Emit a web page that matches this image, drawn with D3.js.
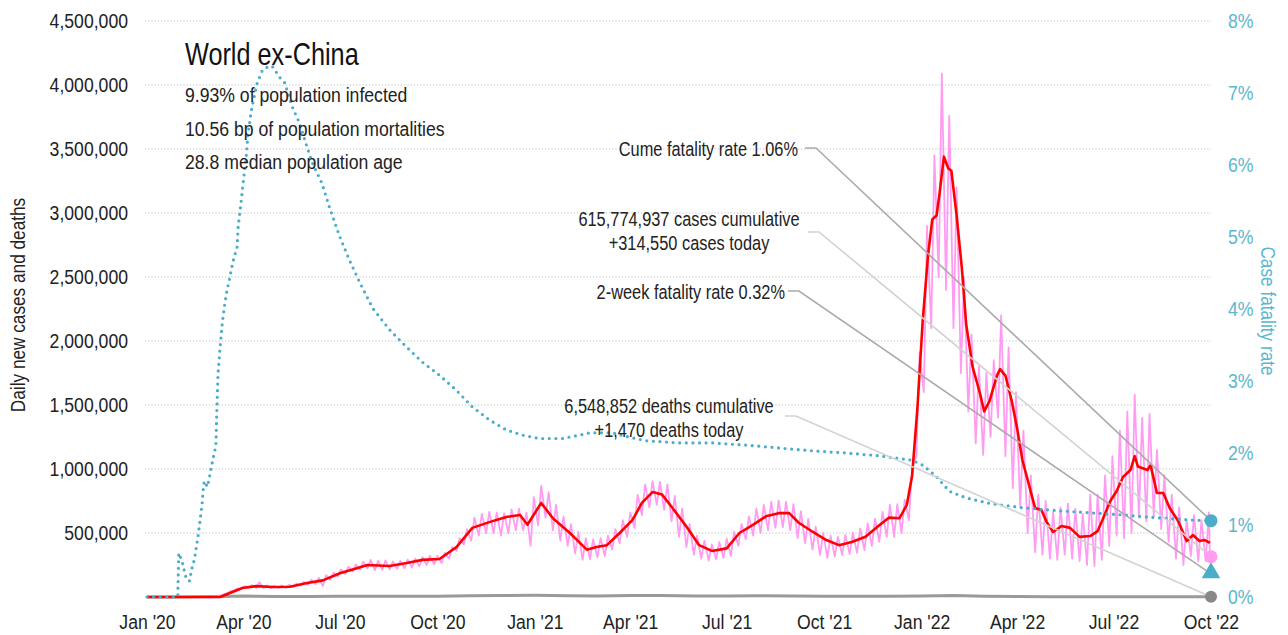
<!DOCTYPE html>
<html>
<head>
<meta charset="utf-8">
<script src="https://cdn.jsdelivr.net/npm/d3@7"></script>
<style>
  html, body { margin: 0; padding: 0; background: #fff; }
  svg { display: block; font-family: "Liberation Sans", Arial, sans-serif; }
</style>
</head>
<body>
<svg id="chart" width="1288" height="635"></svg>
<script>
// ---------------- DATA ----------------
const leftTicks = [500000, 1000000, 1500000, 2000000, 2500000, 3000000, 3500000, 4000000, 4500000];
const rightTicks = [0, 0.01, 0.02, 0.03, 0.04, 0.05, 0.06, 0.07, 0.08];

// 7-day average of daily new cases
const avgDates = ["2020-01-01","2020-03-10","2020-03-31","2020-04-13","2020-04-29","2020-05-15","2020-05-31","2020-06-15","2020-07-01","2020-07-17","2020-07-27","2020-08-17","2020-09-02","2020-09-17","2020-10-03","2020-10-19","2020-11-03","2020-11-19","2020-12-05","2020-12-18","2020-12-25",
"2021-01-07","2021-01-18","2021-02-03","2021-02-19","2021-02-28","2021-03-10","2021-03-22","2021-04-03","2021-04-12","2021-04-22","2021-05-01","2021-05-10","2021-05-24","2021-06-05","2021-06-17","2021-07-01","2021-07-13","2021-07-25","2021-08-07","2021-08-19","2021-08-29","2021-09-07","2021-09-20","2021-10-03","2021-10-15","2021-10-27","2021-11-09","2021-11-22","2021-12-01","2021-12-11","2021-12-18","2021-12-23","2021-12-28",
"2022-01-02","2022-01-07","2022-01-11","2022-01-15","2022-01-18","2022-01-22","2022-01-26","2022-01-29","2022-02-03","2022-02-08","2022-02-12","2022-02-18","2022-02-25","2022-03-01","2022-03-06","2022-03-13","2022-03-16","2022-03-21","2022-03-27","2022-04-01","2022-04-06","2022-04-13","2022-04-18","2022-04-24","2022-04-29","2022-05-05","2022-05-13","2022-05-21","2022-05-30","2022-06-09","2022-06-16","2022-06-21","2022-06-28","2022-07-04","2022-07-10","2022-07-17","2022-07-21","2022-07-24","2022-08-02","2022-08-05","2022-08-11","2022-08-17","2022-08-23","2022-08-31","2022-09-08","2022-09-14","2022-09-20","2022-09-25","2022-09-30"];
const avgCases = [0,0,70000,85000,78000,80000,110000,130000,185000,225000,250000,242000,265000,290000,297000,390000,540000,585000,625000,640000,565000,
735000,615000,500000,370000,390000,405000,500000,600000,735000,820000,800000,705000,550000,405000,360000,380000,500000,560000,630000,655000,655000,580000,510000,445000,405000,430000,470000,560000,620000,615000,720000,950000,1480000,
2160000,2670000,2950000,2980000,3160000,3440000,3350000,3330000,2980000,2560000,2130000,1800000,1590000,1450000,1530000,1730000,1780000,1730000,1530000,1320000,1070000,852000,695000,680000,585000,508000,555000,540000,470000,476000,515000,610000,750000,828000,937000,992000,1100000,1020000,992000,1030000,813000,813000,695000,594000,437000,484000,437000,445000,422000];

// Daily new cases: weekly trough (Monday) and weekly peak (Thursday), from week of 2020-01-06
const weekStart = "2020-01-06";
const casesTrough = [
  0,0,0,0,                       // Jan 2020
  0,0,0,500,                     // Feb
  1500,8000,28000,52000,68000,   // Mar
  72000,70000,70000,68000,       // Apr
  70000,72000,80000,88000,       // May
  95000,100000,85000,135000,160000, // Jun
  180000,200000,215000,225000,   // Jul
  210000,212000,215000,220000,225000, // Aug
  230000,240000,250000,255000,   // Sep
  265000,300000,360000,410000,   // Oct
  440000,480000,500000,500000,480000, // Nov
  500000,520000,520000,400000,   // Dec
  560000,620000,520000,440000,   // Jan 2021
  400000,340000,290000,295000,   // Feb
  310000,320000,370000,420000,470000, // Mar
  540000,640000,700000,720000,   // Apr
  680000,590000,470000,390000,330000, // May
  300000,285000,295000,305000,   // Jun
  320000,400000,450000,480000,   // Jul
  500000,520000,540000,545000,520000, // Aug
  460000,420000,370000,330000,   // Sep
  305000,315000,330000,335000,   // Oct
  345000,365000,400000,430000,470000, // Nov
  470000,500000,600000,1100000,  // Dec
  1600000,2100000,2500000,2400000,2100000, // Jan 2022
  1750000,1450000,1200000,1110000, // Feb
  1250000,1400000,1100000,850000, // Mar
  700000,500000,350000,330000,   // Apr
  300000,290000,330000,300000,280000, // May
  250000,240000,290000,400000,   // Jun
  480000,460000,500000,620000,   // Jul
  590000,630000,530000,430000,300000, // Aug
  250000,320000,280000,280000    // Sep
];
const casesPeak = [
  0,0,0,0,
  0,0,500,1500,
  4000,16000,42000,66000,85000,
  92000,115000,90000,88000,
  90000,95000,105000,118000,
  135000,150000,170000,190000,215000,
  235000,255000,275000,290000,
  282000,286000,278000,282000,292000,
  300000,312000,322000,322000,
  345000,390000,460000,530000,
  620000,650000,665000,660000,655000,
  685000,690000,660000,780000,
  870000,820000,720000,630000,
  570000,510000,460000,450000,
  460000,480000,530000,600000,660000,
  800000,880000,905000,900000,
  880000,790000,690000,570000,480000,
  440000,410000,430000,455000,
  510000,570000,630000,690000,
  720000,745000,755000,745000,725000,
  670000,610000,550000,500000,
  480000,470000,485000,505000,
  535000,575000,610000,665000,720000,
  725000,760000,1020000,1910000,
  2900000,3450000,4090000,3760000,3200000,
  2500000,2050000,1800000,1750000,
  1850000,2200000,1950000,1600000,
  1300000,950000,800000,750000,
  660000,700000,730000,690000,650000,
  800000,800000,950000,1100000,
  1300000,1450000,1580000,1400000,
  1430000,1150000,950000,800000,700000,
  600000,640000,600000,660000
];

// Daily new deaths (monthly readings)
const deathDates = ["2020-01-01","2020-02-01","2020-03-01","2020-04-01","2020-05-01","2020-06-01","2020-07-01","2020-08-01","2020-09-01","2020-10-01","2020-11-01","2020-12-01","2021-01-01","2021-02-01","2021-03-01","2021-04-01","2021-05-01","2021-06-01","2021-07-01","2021-08-01","2021-09-01","2021-10-01","2021-11-01","2021-12-01","2022-01-01","2022-02-01","2022-03-01","2022-04-01","2022-05-01","2022-06-01","2022-07-01","2022-08-01","2022-09-01","2022-09-30"];
const deathValues = [0,100,2000,7000,4500,4500,5500,6000,5500,6500,10000,11500,13500,10000,8500,11000,11000,8500,8000,9500,8500,6800,6500,6500,8500,11000,6500,4000,2500,1800,2500,2300,1500,1470];

// Cumulative case fatality rate (right axis)
const cfrDates = ["2020-01-01","2020-01-30","2020-01-31","2020-02-03","2020-02-04","2020-02-07","2020-02-10","2020-02-12","2020-02-15","2020-02-18","2020-02-20","2020-02-22","2020-02-23","2020-02-24","2020-02-27","2020-02-29","2020-03-03","2020-03-06","2020-03-07","2020-03-08","2020-03-10","2020-03-12","2020-03-14","2020-03-16","2020-03-19","2020-03-22","2020-03-26","2020-03-27","2020-03-30","2020-04-01","2020-04-04","2020-04-05","2020-04-08","2020-04-10","2020-04-14","2020-04-19","2020-04-26","2020-04-29","2020-05-05","2020-05-10","2020-05-17","2020-05-24","2020-05-31","2020-06-05","2020-06-14","2020-06-21","2020-07-01","2020-07-10","2020-07-20","2020-08-01","2020-08-17","2020-09-02","2020-09-17","2020-10-03","2020-10-19","2020-11-03","2020-11-19","2020-12-05","2020-12-20","2021-01-05","2021-01-27","2021-02-22","2021-03-15","2021-03-31","2021-04-16","2021-05-17","2021-06-17","2021-07-19","2021-08-19","2021-09-20","2021-10-22","2021-11-22","2021-12-23","2022-01-02","2022-01-15","2022-01-27","2022-02-12","2022-03-06","2022-04-06","2022-05-08","2022-06-08","2022-07-10","2022-08-11","2022-09-11","2022-09-30"];
const cfrValues = [0,0,0.0061,0.0050,0.0044,0.0026,0.0022,0.00375,0.0054,0.0083,0.0105,0.0130,0.0149,0.0161,0.0153,0.0167,0.0190,0.0210,0.0264,0.0310,0.0347,0.0380,0.0403,0.0422,0.0443,0.0465,0.0486,0.0514,0.0551,0.0579,0.0617,0.0639,0.0672,0.0687,0.0714,0.0732,0.0738,0.0736,0.0722,0.0714,0.0681,0.0658,0.0625,0.0603,0.0575,0.0542,0.0500,0.0468,0.0436,0.0401,0.0371,0.0347,0.0326,0.0308,0.0287,0.0264,0.0246,0.0232,0.0225,0.0220,0.0220,0.0228,0.0228,0.0222,0.0217,0.0214,0.0214,0.0211,0.0207,0.0203,0.0200,0.0196,0.0190,0.0183,0.0167,0.0147,0.01375,0.0130,0.0124,0.0120,0.0117,0.0114,0.0110,0.0107,0.0106];

// Latest values (end markers)
const endDate = "2022-10-01";
const endCumeFatality = 0.0106;
const endCasesToday = 314550;
const end2WeekFatality = 0.0032;
const endDeathsToday = 1470;

const titleText = "World ex-China";
const subtitleLines = ["9.93% of population infected", "10.56 bp of population mortalities", "28.8 median population age"];

// ---------------- CHART ----------------
const parse = d3.timeParse("%Y-%m-%d");
const svg = d3.select("#chart");
const M = {left: 147, right: 1211, top: 21, bottom: 597};
const SX = 0.84; // horizontal condensing of the text face

const x = d3.scaleTime().domain([parse("2020-01-01"), parse("2022-10-01")]).range([M.left, M.right]);
const yL = d3.scaleLinear().domain([0, 4500000]).range([M.bottom, M.top]);
const yR = d3.scaleLinear().domain([0, 0.08]).range([M.bottom, M.top]);

const teal = "#4aaec8";
const tealText = "#5ab7cf";
const pink = "#ff9cf2";
const red = "#ff0000";

function label(parent, px, py, str, size, anchor, fill, sx, rot) {
  return parent.append("text")
    .attr("transform", `translate(${px},${py})${rot ? ` rotate(${rot})` : ""} scale(${sx},1)`)
    .attr("text-anchor", anchor).attr("font-size", size).attr("fill", fill).text(str);
}

// gridlines
svg.append("g").selectAll("line").data(leftTicks).join("line")
  .attr("x1", M.left - 2).attr("x2", M.right)
  .attr("y1", d => yL(d)).attr("y2", d => yL(d))
  .attr("stroke", "#bdbdbd").attr("stroke-width", 1).attr("stroke-dasharray", "1.2 2");

// left axis
const axL = svg.append("g").attr("transform", `translate(${M.left - 19},0)`)
  .call(d3.axisLeft(yL).tickValues(leftTicks).tickFormat(d3.format(",")).tickSize(0).tickPadding(0));
axL.select(".domain").remove();
axL.selectAll("text").attr("font-size", 21).attr("fill", "#222").attr("font-family", null)
  .attr("transform", `scale(${SX},1)`);

// right axis
const axR = svg.append("g").attr("transform", `translate(${M.right + 17},0)`)
  .call(d3.axisRight(yR).tickValues(rightTicks).tickFormat(d3.format(".0%")).tickSize(0).tickPadding(0));
axR.select(".domain").remove();
axR.selectAll("text").attr("font-size", 21).attr("fill", tealText).attr("font-family", null)
  .attr("transform", `scale(${SX},1)`);

// bottom axis
const axB = svg.append("g").attr("transform", `translate(0,${M.bottom + 14})`)
  .call(d3.axisBottom(x).ticks(d3.timeMonth.every(3)).tickFormat(d3.timeFormat("%b '%y")).tickSize(0).tickPadding(0));
axB.select(".domain").remove();
axB.selectAll("text").attr("font-size", 21).attr("fill", "#222").attr("font-family", null)
  .attr("dy", "0.85em").attr("transform", `scale(${SX},1)`);

// axis titles (rotated; condensing applies along the reading direction)
label(svg, 25, 305, "Daily new cases and deaths", 20.5, "middle", "#222", SX, -90);
label(svg, 1261, 311, "Case fatality rate", 20.5, "middle", tealText, SX, 90);

// deaths line
const deaths = deathDates.map((d, i) => ({date: parse(d), v: deathValues[i]}));
svg.append("path").datum(deaths)
  .attr("d", d3.line().x(d => x(d.date)).y(d => yL(d.v)))
  .attr("fill", "none").attr("stroke", "#9a9a9a").attr("stroke-width", 3);

// daily cases (pink)
const ws = parse(weekStart);
const daily = [];
casesTrough.forEach((t, i) => {
  daily.push({date: d3.timeDay.offset(ws, 7 * i), v: t});
  daily.push({date: d3.timeDay.offset(ws, 7 * i + 3), v: casesPeak[i]});
});
daily.unshift({date: parse("2020-01-01"), v: 0});
daily.push({date: parse("2022-09-30"), v: endCasesToday});
svg.append("path").datum(daily)
  .attr("d", d3.line().x(d => x(d.date)).y(d => yL(d.v)))
  .attr("fill", "none").attr("stroke", pink).attr("stroke-width", 1.8).attr("stroke-linejoin", "round");

// 7-day average (red)
const avg = avgDates.map((d, i) => ({date: parse(d), v: avgCases[i]}));
svg.append("path").datum(avg)
  .attr("d", d3.line().x(d => x(d.date)).y(d => yL(d.v)))
  .attr("fill", "none").attr("stroke", red).attr("stroke-width", 2.6).attr("stroke-linejoin", "round");

// CFR (teal dotted)
const cfr = cfrDates.map((d, i) => ({date: parse(d), v: cfrValues[i]}));
svg.append("path").datum(cfr)
  .attr("d", d3.line().x(d => x(d.date)).y(d => yR(d.v)))
  .attr("fill", "none").attr("stroke", teal).attr("stroke-width", 3.2)
  .attr("stroke-linecap", "round").attr("stroke-dasharray", "0 6.6");

// title block
label(svg, 185, 65, titleText, 32, "start", "#111", 0.79);
subtitleLines.forEach((s, i) => {
  label(svg, 185, 102 + i * 33.5, s, 21, "start", "#222", SX);
});

// annotations + leader lines
const ex = x(parse(endDate));
const annotations = [
  {lines: ["Cume fatality rate 1.06%"], anchor: "end", tx: 798, ty: 156, lx: 805, ly: 148, ty2: yR(endCumeFatality), col: "#ababab"},
  {lines: ["615,774,937 cases cumulative", "+314,550 cases today"], anchor: "middle", tx: 689, ty: 226, lx: 808, ly: 232, ty2: yL(endCasesToday), col: "#d2d2d2"},
  {lines: ["2-week fatality rate 0.32%"], anchor: "end", tx: 785, ty: 299, lx: 788, ly: 291, ty2: yR(end2WeekFatality), col: "#ababab"},
  {lines: ["6,548,852 deaths cumulative", "+1,470 deaths today"], anchor: "middle", tx: 669, ty: 413, lx: 785, ly: 416, ty2: yL(endDeathsToday), col: "#d2d2d2"}
];
annotations.forEach(a => {
  svg.append("polyline")
    .attr("points", `${a.lx},${a.ly} ${a.lx + 11},${a.ly} ${ex},${a.ty2}`)
    .attr("fill", "none").attr("stroke", a.col).attr("stroke-width", 1.6);
  a.lines.forEach((l, i) => {
    label(svg, a.tx, a.ty + i * 24, l, 19.5, a.anchor, "#222", SX);
  });
});

// end markers
svg.append("circle").attr("cx", ex).attr("cy", yR(endCumeFatality)).attr("r", 6.5).attr("fill", teal);
svg.append("circle").attr("cx", ex).attr("cy", yL(endCasesToday)).attr("r", 6.5).attr("fill", pink);
svg.append("path").attr("transform", `translate(${ex},${yR(end2WeekFatality) - 1})`)
  .attr("d", d3.symbol(d3.symbolTriangle, 150)()).attr("fill", teal);
svg.append("circle").attr("cx", ex).attr("cy", yL(endDeathsToday)).attr("r", 6).attr("fill", "#888");
</script>
</body>
</html>
